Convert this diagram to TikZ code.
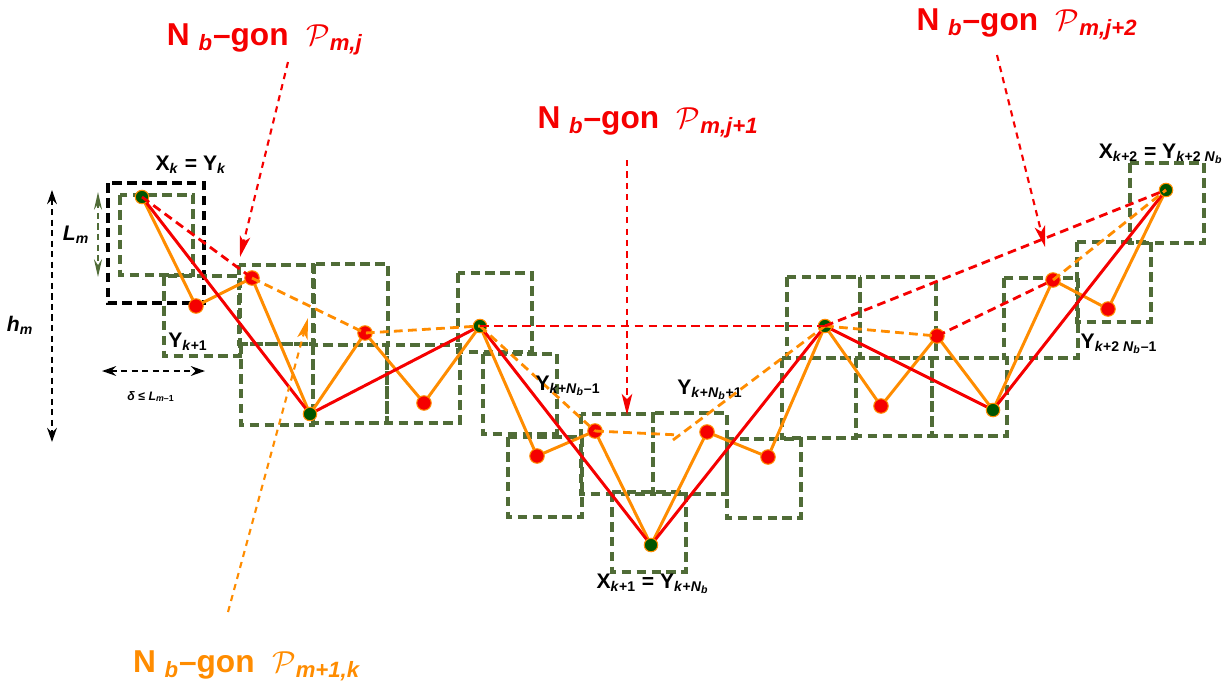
\documentclass[tikz,border=0pt]{standalone}
\usepackage{fontspec}
\setmainfont{Liberation Sans}
\usetikzlibrary{arrows.meta}
\definecolor{boxgreen}{RGB}{80,108,55}
\definecolor{dotgreen}{RGB}{0,85,0}
\definecolor{darkorange}{RGB}{255,140,0}
\definecolor{brightred}{RGB}{245,0,0}
\newcommand{\ngonlabel}[1]{N~\textsubscript{\textit{b}}--gon\ \ $\mathcal{P}$\textsubscript{\textit{#1}}}

\begin{document}
\begin{tikzpicture}[
  x=0.2mm, y=-0.2mm,
  sq/.style={draw=boxgreen, line width=1.8pt, dash pattern=on 5.5pt off 3pt},
  blksq/.style={draw=black, line width=1.8pt, dash pattern=on 5.5pt off 3pt},
  oline/.style={darkorange, line width=1.7pt},
  rline/.style={brightred, line width=1.7pt},
  odash/.style={darkorange, line width=1.6pt, dash pattern=on 5pt off 3pt},
  rdash/.style={brightred, line width=1.6pt, dash pattern=on 5pt off 3pt},
  rdot/.style={circle, fill=brightred, draw=darkorange, line width=0.6pt, inner sep=0pt, minimum size=2.9mm},
  gdot/.style={circle, fill=dotgreen, draw=darkorange, line width=0.6pt, inner sep=0pt, minimum size=2.7mm},
  rarr/.style={-{Stealth[length=12pt, width=6pt, inset=3pt]}, brightred, line width=1.2pt, dash pattern=on 3.5pt off 3pt},
  oarr/.style={-{Stealth[length=12pt, width=6pt, inset=3pt]}, darkorange, line width=1.2pt, dash pattern=on 3.5pt off 3pt},
  dimarr/.style={{Stealth[length=8pt, width=5.5pt]}-{Stealth[length=8pt, width=5.5pt]}, line width=1.4pt, dash pattern=on 3.5pt off 2.5pt},
  big/.style={font=\fontsize{18}{21}\selectfont\bfseries, anchor=base, inner sep=0pt},
  lbl/.style={font=\fontsize{12}{14}\selectfont\bfseries, anchor=base, inner sep=0pt}
]
\useasboundingbox (0,0) rectangle (1231,683);

% boxes
\draw[blksq] (108,183) rectangle (204,303);
\draw[sq] (120,195) rectangle (193,275);
\draw[sq] (164,276) rectangle (240,356);
\draw[sq] (239,265) rectangle (313,344);
\draw[sq] (314,264) rectangle (388,345);
\draw[sq] (241,344) rectangle (313,425);
\draw[sq] (313,345) rectangle (387,423);
\draw[sq] (387,345) rectangle (460,423);
\draw[sq] (458,273) rectangle (532,352);
\draw[sq] (483,354) rectangle (557,434);
\draw[sq] (508,437) rectangle (582,517);
\draw[sq] (581,414) rectangle (653,494);
\draw[sq] (653,413) rectangle (727,494);
\draw[sq] (612,492) rectangle (686,572);
\draw[sq] (727,439) rectangle (801,518);
\draw[sq] (782,358) rectangle (856,438);
\draw[sq] (787,277) rectangle (860,358);
\draw[sq] (860,277) rectangle (936,358);
\draw[sq] (856,358) rectangle (932,436);
\draw[sq] (932,358) rectangle (1007,436);
\draw[sq] (1004,278) rectangle (1078,358);
\draw[sq] (1077,242) rectangle (1151,322);
\draw[sq] (1130,163) rectangle (1204,243);

% points
\coordinate (Y0)  at (142,197);
\coordinate (Y1)  at (196,306);
\coordinate (Y2)  at (252,278);
\coordinate (Y3)  at (310,414);
\coordinate (Y4)  at (365,333);
\coordinate (Y5)  at (424,403);
\coordinate (Y6)  at (480,326);
\coordinate (Y7)  at (537,456);
\coordinate (Y8)  at (595,431);
\coordinate (Y9)  at (651,545);
\coordinate (Y10) at (707,432);
\coordinate (Y11) at (768,457);
\coordinate (Y12) at (825,326);
\coordinate (Y13) at (881,406);
\coordinate (Y14) at (937,336);
\coordinate (Y15) at (993,410);
\coordinate (Y16) at (1053,280);
\coordinate (Y17) at (1108,309);
\coordinate (Y18) at (1166,190);
\coordinate (c1)  at (680,435);
\coordinate (c2)  at (673,440);

% polygons
\draw[oline] (Y0) -- (Y1) -- (Y2) -- (Y3) -- (Y4) -- (Y5) -- (Y6) -- (Y7) -- (Y8) -- (Y9)
  -- (Y10) -- (Y11) -- (Y12) -- (Y13) -- (Y14) -- (Y15) -- (Y16) -- (Y17) -- (Y18);
\draw[rline] (Y0) -- (Y3) -- (Y6) -- (Y9) -- (Y12) -- (Y15) -- (Y18);

\node[gdot] (d0)  at (Y0)  {};
\node[rdot] (d1)  at (Y1)  {};
\node[rdot] (d2)  at (Y2)  {};
\node[gdot] (d3)  at (Y3)  {};
\node[rdot] (d4)  at (Y4)  {};
\node[rdot] (d5)  at (Y5)  {};
\node[gdot] (d6)  at (Y6)  {};
\node[rdot] (d7)  at (Y7)  {};
\node[rdot] (d8)  at (Y8)  {};
\node[gdot] (d9)  at (Y9)  {};
\node[rdot] (d10) at (Y10) {};
\node[rdot] (d11) at (Y11) {};
\node[gdot] (d12) at (Y12) {};
\node[rdot] (d13) at (Y13) {};
\node[rdot] (d14) at (Y14) {};
\node[gdot] (d15) at (Y15) {};
\node[rdot] (d16) at (Y16) {};
\node[rdot] (d17) at (Y17) {};
\node[gdot] (d18) at (Y18) {};

\draw[rdash] (Y0) -- (Y2);
\draw[odash] (Y2) -- (Y4) -- (Y6);
\draw[odash] (Y6) -- (Y8);
\draw[odash] (Y8) -- (c1);
\draw[odash] (c2) -- (Y12);
\draw[rdash] (Y6) -- (Y12);
\draw[odash] (Y12) -- (Y14);
\draw[rdash] (Y14) -- (Y16);
\draw[rdash] (Y12) -- (Y18);
\draw[odash] (Y16) -- (Y18);

% labels
\node[big, brightred]  (pj)  at (265,45)  {\ngonlabel{m,j}};
\node[big, brightred]  (pj1) at (648,128) {\ngonlabel{m,j+1}};
\node[big, brightred]  (pj2) at (1027,30) {\ngonlabel{m,j+2}};
\node[big, darkorange] (pk)  at (247,672) {\ngonlabel{m+1,k}};

\coordinate (pjs)  at (288,62);
\coordinate (pjt)  at (240,257);
\coordinate (pj1s) at (627,160);
\coordinate (pj1t) at (627,415);
\coordinate (pj2s) at (997,55);
\coordinate (pj2t) at (1045,247);
\coordinate (pks)  at (228,612);
\coordinate (pkt)  at (308,318);
\draw[rarr] (pjs)  -- (pjt);
\draw[rarr] (pj1s) -- (pj1t);
\draw[rarr] (pj2s) -- (pj2t);
\draw[oarr] (pks)  -- (pkt);

\node[lbl] (xk)   at (191,170)  {X\textsubscript{\textit{k}} = Y\textsubscript{\textit{k}}};
\node[lbl] (yk1)  at (188,347)  {Y\textsubscript{\textit{k}+1}};
\node[lbl] (ykm)  at (568,390)  {Y\textsubscript{\textit{k}+\textit{N}\textsubscript{\textit{b}}--1}};
\node[lbl] (ykp)  at (710,394)  {Y\textsubscript{\textit{k}+\textit{N}\textsubscript{\textit{b}}+1}};
\node[lbl] (xk1)  at (653,588)  {X\textsubscript{\textit{k}+1} = Y\textsubscript{\textit{k}+\textit{N}\textsubscript{\textit{b}}}};
\node[lbl] (xk2)  at (1161,158) {X\textsubscript{\textit{k}+2} = Y\textsubscript{\textit{k}+2 \textit{N}\textsubscript{\textit{b}}}};
\node[lbl] (yk2m) at (1119,348) {Y\textsubscript{\textit{k}+2 \textit{N}\textsubscript{\textit{b}}--1}};
\node[lbl] (hm)   at (20,331)   {\textit{h}\textsubscript{\textit{m}}};
\node[lbl] (lm)   at (76,240)   {\textit{L}\textsubscript{\textit{m}}};
\node[lbl, font=\fontsize{7}{8}\selectfont\bfseries] (dl) at (151,400) {\textit{δ} ≤ \textit{L}\textsubscript{\textit{m}--1}};

% dimensions
\coordinate (hT) at (52,190);
\coordinate (hB) at (52,442);
\coordinate (lT) at (98,192);
\coordinate (lB) at (98,277);
\coordinate (dL) at (102,371);
\coordinate (dR) at (205,371);
\draw[dimarr] (hT) -- (hB);
\draw[dimarr, boxgreen, {Stealth[length=10pt, width=4.5pt]}-{Stealth[length=10pt, width=4.5pt]}] (lT) -- (lB);
\draw[dimarr] (dL) -- (dR);
\end{tikzpicture}
\end{document}
